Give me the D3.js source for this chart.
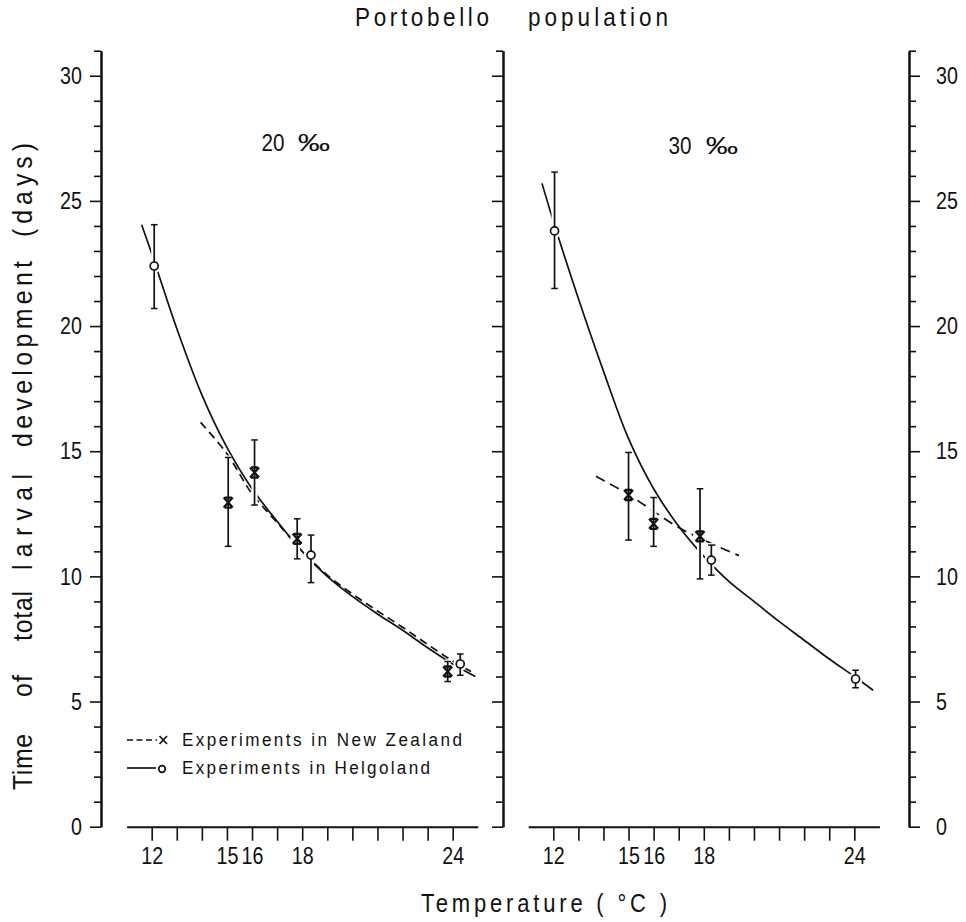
<!DOCTYPE html>
<html><head><meta charset="utf-8">
<script src="https://cdn.jsdelivr.net/npm/d3@7"></script>
<style>body{margin:0;background:#fff} svg{display:block}</style>
</head><body>
<svg id="c" width="966" height="922"></svg>
<script>
// ---------------- DATA ----------------
// Panel 20 ‰ — Experiments in New Zealand (x markers, dashed fit)
const nzTemp20 = [15.05, 16.1, 17.8, 23.8];
const nzMean20 = [12.95, 14.15, 11.5, 6.2];
const nzLow20  = [11.2, 12.85, 10.7, 5.8];
const nzHigh20 = [14.75, 15.45, 12.3, 6.6];
const nzFitT20 = [13.95, 15, 16, 17, 18, 19, 20, 21, 22, 23, 24, 24.9];
const nzFitY20 = [16.15, 14.9, 13.3, 12.15, 11.0, 10.05, 9.3, 8.62, 7.97, 7.28, 6.62, 6.1];
// Panel 20 ‰ — Experiments in Helgoland (o markers, solid fit)
const hgTemp20 = [12.1, 18.35, 24.3];
const hgMean20 = [22.4, 10.85, 6.5];
const hgLow20  = [20.7, 9.75, 6.05];
const hgHigh20 = [24.05, 11.65, 6.9];
const hgFitT20 = [11.6, 12, 13, 14, 15, 16, 17, 18, 19, 20, 21, 22, 23, 24, 24.9];
const hgFitY20 = [24.05, 22.9, 19.9, 17.25, 15.15, 13.5, 12.2, 11.0, 10.0, 9.2, 8.5, 7.85, 7.15, 6.5, 6.0];

// Panel 30 ‰ — New Zealand
const nzTemp30 = [15.0, 16.0, 17.85];
const nzMean30 = [13.25, 12.1, 11.6];
const nzLow30  = [11.45, 11.2, 9.9];
const nzHigh30 = [14.95, 13.15, 13.5];
const nzFitT30 = [13.7, 15, 16, 17, 18, 19.4];
const nzFitY30 = [14.0, 13.27, 12.6, 11.95, 11.45, 10.83];
// Panel 30 ‰ — Helgoland
const hgTemp30 = [12.05, 18.3, 24.05];
const hgMean30 = [23.8, 10.65, 5.9];
const hgLow30  = [21.5, 10.05, 5.55];
const hgHigh30 = [26.15, 11.25, 6.25];
const hgFitT30 = [11.55, 12, 13, 14, 15, 16, 17, 18, 19, 20, 21, 22, 23, 24, 24.75];
const hgFitY30 = [25.7, 24.2, 21.1, 18.2, 15.5, 13.5, 12.0, 10.8, 9.8, 9.0, 8.2, 7.45, 6.7, 6.0, 5.45];

// Axis ticks and labels
const yMajor = [0, 5, 10, 15, 20, 25, 30];
const yMinor = d3.range(0, 32).filter(d => d % 5 !== 0);
const xTicks = d3.range(12, 25);
const xLabels = [12, 15, 16, 18, 24];
const panelSalinity = ["20", "30"];
const yTitleWords = ["Time", "of", "total", "larval", "development", "(days)"];

// ---------------- DRAWING ----------------
const svg = d3.select('#c');
const FONT = '"Liberation Sans", Arial, sans-serif';
const SX = 0.82;
const INK = '#111';

function label(x, y, str, o = {}) {
  const sx = o.sx || SX;
  const g = svg.append('g').attr('transform', `translate(${x},${y})` + (o.rotate ? ` rotate(${o.rotate})` : ''));
  const t = g.append('text').attr('transform', `scale(${sx},1)`)
    .attr('text-anchor', o.anchor || 'middle')
    .attr('font-family', FONT).attr('font-size', o.size || 24).attr('fill', INK).text(str);
  if (o.width) t.attr('textLength', o.width / sx).attr('lengthAdjust', 'spacing');
  return t;
}
function narrowTicks(g) {
  g.selectAll('.tick text').each(function () {
    const t = d3.select(this);
    const x = +t.attr('x') || 0;
    t.attr('x', x / SX).attr('transform', `scale(${SX},1)`);
  });
}
function styleAxis(g) {
  g.select('.domain').attr('stroke', INK).attr('stroke-width', 2);
  g.selectAll('.tick line').attr('stroke', INK).attr('stroke-width', 1.6);
  g.selectAll('.tick text').attr('font-family', FONT).attr('font-size', 24).attr('fill', INK);
  narrowTicks(g);
}

const y = d3.scaleLinear().domain([0, 31]).range([826.7, 50.7]);
const xL = d3.scaleLinear().domain([11, 25]).range([126.6, 477.8]);
const xR = d3.scaleLinear().domain([11, 25]).range([528.2, 879.4]);

function yAxis(x0, right, withLabels, pad) {
  const mk = right ? d3.axisRight : d3.axisLeft;
  const a = svg.append('g').attr('transform', `translate(${x0},0)`)
    .call(mk(y).tickValues(yMinor).tickSize(7).tickSizeOuter(0).tickFormat(''));
  styleAxis(a);
  const b = svg.append('g').attr('transform', `translate(${x0},0)`)
    .call(mk(y).tickValues(yMajor).tickSize(11).tickSizeOuter(0).tickPadding(pad)
      .tickFormat(withLabels ? d3.format('d') : ''));
  styleAxis(b);
}
yAxis(101, false, true, 8);
yAxis(503, false, false, 8);
yAxis(909, true, true, 16);

function xAxis(sc) {
  const g = svg.append('g').attr('transform', `translate(0,${y(0)})`)
    .call(d3.axisBottom(sc).tickValues(xTicks).tickSize(14).tickSizeOuter(0).tickPadding(6)
      .tickFormat(d => xLabels.includes(d) ? d : ''));
  styleAxis(g);
}
xAxis(xL);
xAxis(xR);

// Titles
label(422, 26, 'Portobello', { size: 25, sx: 0.9, width: 134 });
label(598, 26, 'population', { size: 25, sx: 0.9, width: 140 });
label(544, 912, 'Temperature ( °C )', { size: 25, sx: 0.88, width: 246 });
// rotated y title, word by word (centre along the axis, span length)
const yWordCentre = [762, 686, 616, 522, 354, 190];
const yWordLen = [56, 22, 50, 96, 186, 94];
yTitleWords.forEach((w, i) =>
  label(32, yWordCentre[i], w, { size: 27, sx: 0.92, rotate: -90, width: yWordLen[i] }));
// panel salinity labels: number and per-mille sign
label(273, 151, panelSalinity[0], { size: 24, sx: 0.86 });
label(314, 151, '‰', { size: 24, sx: 1.35 });
label(680, 154, panelSalinity[1], { size: 24, sx: 0.86 });
label(722, 154, '‰', { size: 24, sx: 1.35 });

// Curves
const line = sc => d3.line().x(d => sc(d[0])).y(d => y(d[1])).curve(d3.curveCatmullRom.alpha(0.5));
function curve(sc, T, Y, dash) {
  svg.append('path').datum(T.map((t, i) => [t, Y[i]]))
    .attr('d', line(sc)).attr('fill', 'none').attr('stroke', INK).attr('stroke-width', 1.7)
    .attr('stroke-dasharray', dash || null);
}
curve(xL, hgFitT20, hgFitY20);
curve(xL, nzFitT20, nzFitY20, '8,5');
curve(xR, hgFitT30, hgFitY30);
curve(xR, nzFitT30, nzFitY30, '10,6');

// Points with error bars
function pts(sc, T, M, L, Hh, kind) {
  return T.map((t, i) => ({ x: sc(t), y: y(M[i]), lo: y(L[i]), hi: y(Hh[i]), kind }));
}
const all = [
  ...pts(xL, nzTemp20, nzMean20, nzLow20, nzHigh20, 'x'),
  ...pts(xL, hgTemp20, hgMean20, hgLow20, hgHigh20, 'o'),
  ...pts(xR, nzTemp30, nzMean30, nzLow30, nzHigh30, 'x'),
  ...pts(xR, hgTemp30, hgMean30, hgLow30, hgHigh30, 'o'),
];
// white halos creating gaps in curves around the points
const halo = svg.append('g');
all.forEach(p => {
  halo.append('line').attr('x1', p.x).attr('x2', p.x).attr('y1', p.hi - 2).attr('y2', p.lo + 2)
    .attr('stroke', '#fff').attr('stroke-width', 6);
  halo.append('circle').attr('cx', p.x).attr('cy', p.y).attr('r', 7).attr('fill', '#fff');
});
const ink = svg.append('g').attr('stroke', INK).attr('fill', 'none');
all.forEach(p => {
  ink.append('line').attr('x1', p.x).attr('x2', p.x).attr('y1', p.hi).attr('y2', p.lo).attr('stroke-width', 1.7);
  [p.hi, p.lo].forEach(v => ink.append('line').attr('x1', p.x - 3.3).attr('x2', p.x + 3.3)
    .attr('y1', v).attr('y2', v).attr('stroke-width', 1.5));
  if (p.kind === 'o') {
    ink.append('circle').attr('cx', p.x).attr('cy', p.y).attr('r', 4)
      .attr('fill', '#fff').attr('stroke-width', 1.7);
  } else {
    ink.append('path').attr('transform', `translate(${p.x},${p.y})`)
      .attr('d', 'M-4.5,-5L4.5,5M-4.5,5L4.5,-5M-3.5,-5H3.5M-3.5,5H3.5').attr('stroke-width', 2.3);
  }
});

// Legend
const lg = svg.append('g').attr('stroke', INK).attr('fill', 'none');
lg.append('line').attr('x1', 127).attr('x2', 157).attr('y1', 740).attr('y2', 740)
  .attr('stroke-width', 1.7).attr('stroke-dasharray', '6,3.5');
lg.append('path').attr('d', 'M159.5,736L167,744M159.5,744L167,736').attr('stroke-width', 1.7);
lg.append('line').attr('x1', 127).attr('x2', 156).attr('y1', 768).attr('y2', 768).attr('stroke-width', 1.7);
lg.append('circle').attr('cx', 162).attr('cy', 769).attr('r', 3.3).attr('stroke-width', 1.7).attr('fill', '#fff');
label(182, 746, 'Experiments in New Zealand', { size: 19, anchor: 'start', sx: 0.9, width: 280 });
label(182, 774, 'Experiments in Helgoland', { size: 19, anchor: 'start', sx: 0.9, width: 248 });
</script>
</body></html>
